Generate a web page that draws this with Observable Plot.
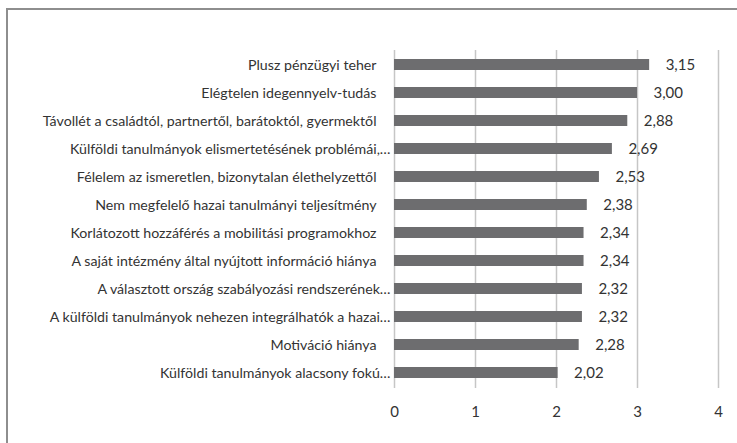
<!DOCTYPE html>
<html>
<head>
<meta charset="utf-8">
<script src="https://cdn.jsdelivr.net/npm/d3@7"></script>
<script src="https://cdn.jsdelivr.net/npm/@observablehq/plot@0.6"></script>
<style>
  html, body { margin: 0; padding: 0; background: #fff; }
  #wrap { position: relative; width: 737px; height: 443px; overflow: hidden; }
  #border { position: absolute; left: 6px; top: 8px; width: 760px; height: 470px; border: 2px solid #8e8e8e; pointer-events: none; box-sizing: border-box; }
  #chart { position: absolute; left: 0; top: 0; }
</style>
</head>
<body>
<div id="wrap"><div id="chart"></div><div id="border"></div></div>
<script>
const categories = [
  "Plusz pénzügyi teher",
  "Elégtelen idegennyelv-tudás",
  "Távollét a családtól, partnertől, barátoktól, gyermektől",
  "Külföldi tanulmányok elismertetésének problémái,…",
  "Félelem az ismeretlen, bizonytalan élethelyzettől",
  "Nem megfelelő hazai tanulmányi teljesítmény",
  "Korlátozott hozzáférés a mobilitási programokhoz",
  "A saját intézmény által nyújtott információ hiánya",
  "A választott ország szabályozási rendszerének…",
  "A külföldi tanulmányok nehezen integrálhatók a hazai…",
  "Motiváció hiánya",
  "Külföldi tanulmányok alacsony fokú…"
];
const values = [3.15, 3.00, 2.88, 2.69, 2.53, 2.38, 2.34, 2.34, 2.32, 2.32, 2.28, 2.02];
const xTicks = [0, 1, 2, 3, 4];

const data = categories.map((c, i) => ({label: c, value: values[i], key: i + "|" + c}));
const keyOf = d => d.key;
const fmt = v => v.toFixed(2).replace(".", ",");
const font = "Lato, 'Open Sans', sans-serif";

const chart = Plot.plot({
  width: 737,
  height: 443,
  marginLeft: 394,
  marginRight: 19,
  marginTop: 50,
  marginBottom: 55,
  style: {fontFamily: font, color: "#404040", background: "transparent"},
  x: {domain: [0, 4], ticks: xTicks},
  y: {domain: data.map(keyOf), paddingInner: 0.6, paddingOuter: 0.3, axis: null},
  marks: [
    Plot.gridX(xTicks, {stroke: "#c6c6c6", strokeOpacity: 1, strokeWidth: 1.5}),
    Plot.barX(data, {x: "value", y: keyOf, fill: "#6d6d6f"}),
    Plot.text(data, {x: "value", y: keyOf, text: d => fmt(d.value), textAnchor: "start", dx: 16, fontSize: 15, fill: "#333"}),
    Plot.text(data.filter(d => !d.label.endsWith("…")), {y: keyOf, text: "label", frameAnchor: "left", textAnchor: "end", dx: -18, fontSize: 14.2, fill: "#333"}),
    Plot.text(data.filter(d => d.label.endsWith("…")), {y: keyOf, text: "label", frameAnchor: "left", textAnchor: "end", dx: -4, fontSize: 14.2, fill: "#333"}),
    Plot.axisX(xTicks, {tickSize: 0, tickPadding: 18, fontSize: 15, fill: "#333", tickFormat: d => String(d), label: null})
  ]
});
document.getElementById("chart").appendChild(chart);
</script>
</body>
</html>
